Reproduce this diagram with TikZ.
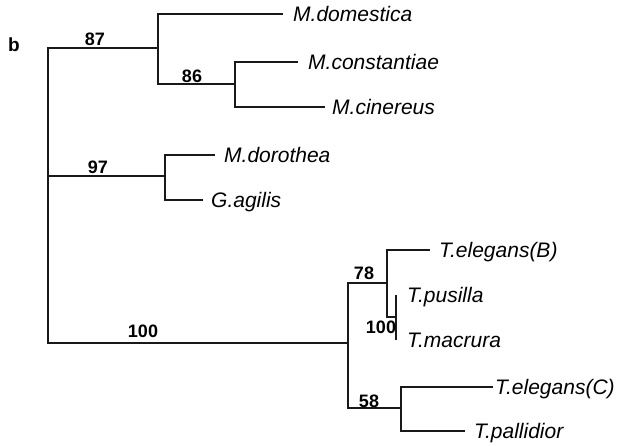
\documentclass[tikz,border=0pt]{standalone}
\usepackage{fontspec}
\setmainfont{Liberation Sans}
\begin{document}
\begin{tikzpicture}[x=1pt,y=-1pt,
  tree/.style={draw=black!90, line width=1.1pt},
  leaf/.style={anchor=base west, inner sep=0pt, font=\fontsize{21}{21}\selectfont\itshape},
  sup/.style={inner sep=0pt, font=\fontsize{18}{18}\selectfont\bfseries}]
\useasboundingbox (0,0) rectangle (626,445);
% internal nodes
\coordinate (rootT) at (48,48);
\coordinate (rootB) at (48,343);
\coordinate (A) at (158,48);
\coordinate (B) at (235,84);
\coordinate (C) at (165,176);
\coordinate (D) at (348,343);
\coordinate (E) at (387,283);
\coordinate (G) at (396,317);
\coordinate (Gt) at (396,295);
\coordinate (Gb) at (396,340);
\coordinate (F) at (401,408);
% leaf branch ends
\coordinate (domE) at (283,14);
\coordinate (consE) at (298,62);
\coordinate (cinE) at (325,107);
\coordinate (dorE) at (215,155);
\coordinate (agiE) at (203,200);
\coordinate (elBE) at (430,250);
\coordinate (elCE) at (493,387);
\coordinate (palE) at (465,431);
% leaves
\node[leaf] (dom) at (293,21.5) {M.domestica};
\node[leaf] (cons) at (308,69.5) {M.constantiae};
\node[leaf] (cin) at (332,114.5) {M.cinereus};
\node[leaf] (dor) at (224,162.5) {M.dorothea};
\node[leaf] (agi) at (211,207.5) {G.agilis};
\node[leaf] (elB) at (439,257.5) {T.elegans(B)};
\node[leaf] (pus) at (407,302.5) {T.pusilla};
\node[leaf] (mac) at (407,347.5) {T.macrura};
\node[leaf] (elC) at (495,394.5) {T.elegans(C)};
\node[leaf] (pal) at (474,438.5) {T.pallidior};
% branches
\draw[tree] (domE) -| (A) |- (B);
\draw[tree] (consE) -| (B) |- (cinE);
\draw[tree] (dorE) -| (C) |- (agiE);
\draw[tree] (A) -- (rootT) -- (rootB) -- (D);
\draw[tree] (C) -- (rootT |- C);
\draw[tree] (E) -| (D) |- (F);
\draw[tree] (elBE) -| (E) |- (G);
\draw[tree] (Gt) -- (Gb);
\draw[tree] (elCE) -| (F) |- (palE);
% support values
\node[sup] (s87) at (95,39) {87};
\node[sup] (s86) at (192,76) {86};
\node[sup] (s97) at (98,167) {97};
\node[sup] (s100a) at (143,331) {100};
\node[sup] (s78) at (364,273) {78};
\node[sup] (s100b) at (381,327) {100};
\node[sup] (s58) at (369,401) {58};
% panel letter
\node[inner sep=0pt, font=\fontsize{19}{19}\selectfont\bfseries] (lb) at (14,45) {b};
\end{tikzpicture}
\end{document}
